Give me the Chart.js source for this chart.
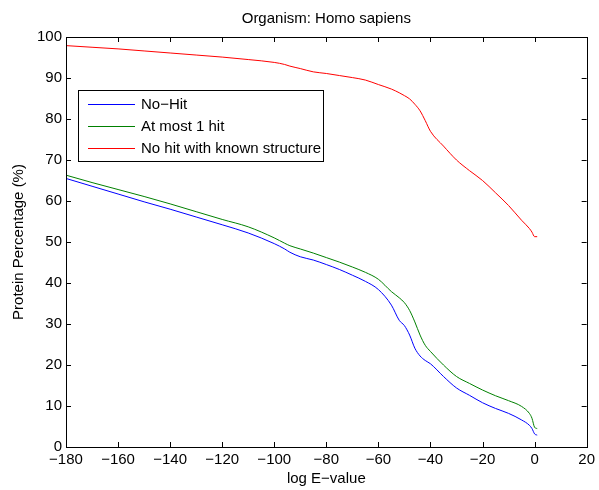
<!DOCTYPE html>
<html>
<head>
<meta charset="utf-8">
<script src="https://cdn.jsdelivr.net/npm/chart.js@4/dist/chart.umd.min.js"></script>
<style>
  body { margin: 0; background: #fff; }
  canvas { display: block; }
</style>
</head>
<body>
<canvas id="myChart" width="599" height="490"></canvas>
<script>
// log E-value sample positions shared by all three curves
var eValues = [-180, -170, -160, -150, -140, -130, -120, -110, -100, -96, -94, -90, -85, -80, -75, -70, -65, -60, -55, -52, -50, -48, -46, -44, -42, -40, -35, -30, -25, -20, -15, -10, -5, -2, -1, 0, 1];

var noHit = [65.5, 63.6, 61.7, 59.8, 58.0, 56.1, 54.2, 52.2, 49.6, 48.3, 47.5, 46.4, 45.6, 44.5, 43.3, 41.9, 40.4, 38.4, 34.6, 30.9, 29.6, 27.3, 24.1, 22.2, 21.1, 20.3, 17.2, 14.4, 12.6, 10.8, 9.4, 8.2, 6.6, 5.3, 4.5, 3.2, 2.9];
var atMostOne = [66.3, 64.5, 62.8, 61.1, 59.3, 57.4, 55.5, 53.7, 51.0, 49.7, 49.1, 48.3, 47.3, 46.2, 45.1, 43.9, 42.6, 40.9, 37.9, 36.4, 35.2, 33.3, 30.5, 27.3, 24.8, 23.3, 20.0, 17.2, 15.5, 13.9, 12.5, 11.3, 9.9, 8.2, 7.0, 4.8, 4.5];
var noStructure = [97.9, 97.5, 97.1, 96.6, 96.1, 95.6, 95.1, 94.5, 93.8, 93.3, 92.9, 92.3, 91.5, 91.1, 90.6, 90.1, 89.5, 88.4, 87.3, 86.4, 85.7, 84.9, 83.6, 82.0, 79.6, 77.0, 73.4, 70.0, 67.4, 65.0, 62.0, 58.9, 55.3, 53.3, 52.4, 51.3, 51.3];

var seriesNames = ['No\u2212Hit', 'At most 1 hit', 'No hit with known structure'];
var seriesColors = ['#0000ff', '#008000', '#ff0000'];

var xTicks = [-180, -160, -140, -120, -100, -80, -60, -40, -20, 0, 20];
var yTicks = [0, 10, 20, 30, 40, 50, 60, 70, 80, 90, 100];

var fontFamily = '"Liberation Sans", Arial, Helvetica, sans-serif';
var fontSize = 15;

function points(ys) {
    return eValues.map(function (x, i) { return { x: x, y: ys[i] }; });
}

function minus(v) {
    return String(v).replace('-', '\u2212');
}

// MATLAB style box with inward ticks, title over the axes, legend inside
var matlabAxes = {
    id: 'matlabAxes',
    afterDatasetsDraw: function (chart) {
        var c = chart.ctx;
        var a = chart.chartArea;
        var xs = chart.scales.x, ys = chart.scales.y;
        var tick = 5;
        c.save();
        c.strokeStyle = '#000';
        c.lineWidth = 1;
        c.beginPath();
        xTicks.forEach(function (v) {
            var px = Math.round(xs.getPixelForValue(v)) + 0.5;
            c.moveTo(px, a.bottom); c.lineTo(px, a.bottom - tick);
            c.moveTo(px, a.top); c.lineTo(px, a.top + tick);
        });
        yTicks.forEach(function (v) {
            var py = Math.round(ys.getPixelForValue(v)) + 0.5;
            c.moveTo(a.left, py); c.lineTo(a.left + tick, py);
            c.moveTo(a.right, py); c.lineTo(a.right - tick, py);
        });
        c.stroke();
        c.strokeRect(Math.round(a.left) + 0.5, Math.round(a.top) + 0.5,
            Math.round(a.right - a.left), Math.round(a.bottom - a.top));

        c.fillStyle = '#000';
        c.font = fontSize + 'px ' + fontFamily;

        // title
        c.textAlign = 'center';
        c.textBaseline = 'middle';
        c.fillText('Organism: Homo sapiens', (a.left + a.right) / 2, a.top - 18);

        // legend
        c.textAlign = 'left';
        var bx = Math.round(a.left) + 12, by = Math.round(a.top) + 53;
        var lineX = bx + 10, lineLen = 47, textX = lineX + lineLen + 6;
        var rowH = 22;
        var maxW = 0;
        seriesNames.forEach(function (n) { maxW = Math.max(maxW, c.measureText(n).width); });
        var bw = Math.round(textX + maxW + 2 - bx), bh = rowH * seriesNames.length + 5;
        c.fillStyle = '#fff';
        c.fillRect(bx, by, bw, bh);
        c.strokeStyle = '#000';
        c.strokeRect(bx + 0.5, by + 0.5, bw, bh);
        seriesNames.forEach(function (n, i) {
            var ry = Math.round(by + 14 + i * rowH);
            c.fillStyle = seriesColors[i];
            c.fillRect(lineX, ry, lineLen, 1);
            c.fillStyle = '#000';
            c.fillText(n, textX, ry + 0.5);
        });
        c.restore();
    }
};

var ctx = document.getElementById('myChart').getContext('2d');

var myChart = new Chart(ctx, {
    type: 'line',
    data: {
        datasets: [{
                label: seriesNames[0],
                data: points(noHit),
                borderColor: seriesColors[0]
            }, {
                label: seriesNames[1],
                data: points(atMostOne),
                borderColor: seriesColors[1]
            }, {
                label: seriesNames[2],
                data: points(noStructure),
                borderColor: seriesColors[2]
            }]
    },
    options: {
        responsive: false,
        animation: false,
        layout: { padding: { left: 0, right: 11, top: 37, bottom: 0 } },
        elements: {
            point: { radius: 0 },
            line: { borderWidth: 1, cubicInterpolationMode: 'monotone', fill: false }
        },
        plugins: {
            legend: { display: false },
            tooltip: { enabled: false },
            title: { display: false }
        },
        scales: {
            x: {
                type: 'linear',
                min: -180,
                max: 20,
                afterBuildTicks: function (s) { s.ticks = xTicks.map(function (v) { return { value: v }; }); },
                afterFit: function (s) { s.height = 43; },
                grid: { display: false, drawTicks: false },
                border: { display: false },
                ticks: {
                    color: '#000',
                    padding: 4,
                    maxRotation: 0,
                    autoSkip: false,
                    font: { family: fontFamily, size: fontSize },
                    callback: function (v) { return minus(v); }
                },
                title: {
                    display: true,
                    text: 'log E\u2212value',
                    color: '#000',
                    font: { family: fontFamily, size: fontSize },
                    padding: { top: 0, bottom: 2 }
                }
            },
            y: {
                min: 0,
                max: 100,
                afterBuildTicks: function (s) { s.ticks = yTicks.map(function (v) { return { value: v }; }); },
                afterFit: function (s) { s.width = 66; },
                grid: { display: false, drawTicks: false },
                border: { display: false },
                ticks: {
                    color: '#000',
                    padding: 4,
                    font: { family: fontFamily, size: fontSize },
                    callback: function (v) { return minus(v); }
                },
                title: {
                    display: true,
                    text: 'Protein Percentage (%)',
                    color: '#000',
                    font: { family: fontFamily, size: fontSize },
                    padding: { top: 10, bottom: 0 }
                }
            }
        }
    },
    plugins: [matlabAxes]
});
</script>
</body>
</html>
